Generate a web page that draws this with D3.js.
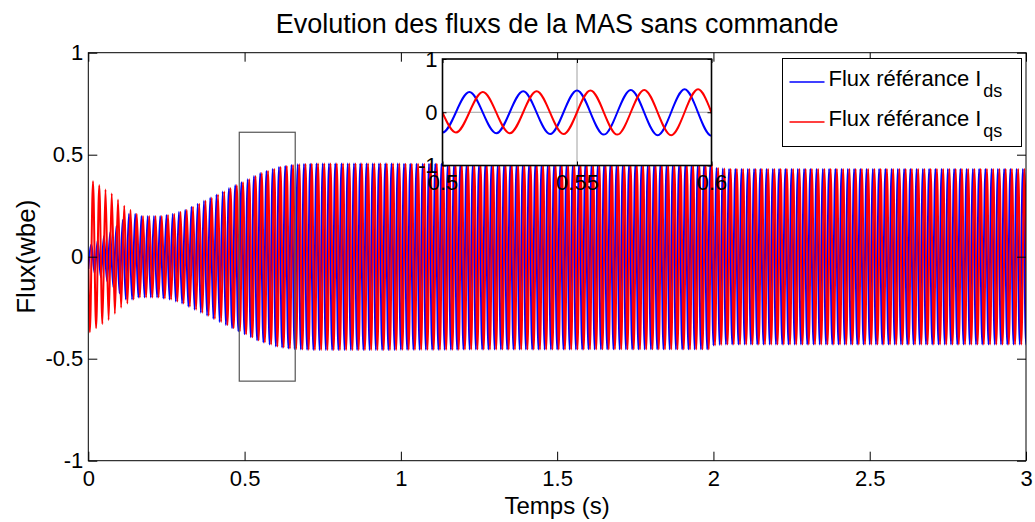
<!DOCTYPE html>
<html><head><meta charset="utf-8">
<script src="https://cdn.jsdelivr.net/npm/d3@7"></script>
<style>body{margin:0;background:#fff}svg{display:block}text{font-family:"Liberation Sans",Arial,sans-serif;fill:#000}</style>
</head><body><svg id="c" width="1035" height="522"></svg>
<script>
// ---------- data ----------
const titleText = "Evolution des fluxs de la MAS sans commande";
const xLabelText = "Temps (s)";
const yLabelText = "Flux(wbe)";
const xTicks = [0, 0.5, 1, 1.5, 2, 2.5, 3];
const xTickLabels = ["0", "0.5", "1", "1.5", "2", "2.5", "3"];
const yTicks = [-1, -0.5, 0, 0.5, 1];
const yTickLabels = ["-1", "-0.5", "0", "0.5", "1"];
const insetXTicks = [0.5, 0.55, 0.6];
const insetXTickLabels = ["0.5", "0.55", "0.6"];
const insetYTicks = [-1, 0, 1];
const insetYTickLabels = ["-1", "0", "1"];
const seriesNames = ["Flux référance I", "Flux référance I"];
const seriesSubs = ["ds", "qs"];
const period = 0.02;            // 50 Hz (5 cycles in 0.1 s)
// peak amplitude of each cycle (cycle k starts at k*period), read from the envelope
const ampDs = [0.06,0.08,0.10,0.12,0.15,0.18,0.21,0.21,0.20,0.20,
  0.20,0.20,0.205,0.21,0.22,0.23,0.245,0.26,0.275,0.29,
  0.305,0.32,0.335,0.35,0.365,0.38,0.395,0.41,0.42,0.43,
  0.44,0.445,0.45,0.453,0.455,0.456,0.457,0.457,0.457,0.457,
  0.457,0.457,0.457,0.457,0.457,0.457,0.457,0.457,0.457,0.457,
  0.456,0.456,0.456,0.456,0.456,0.456,0.456,0.456,0.456,0.456,
  0.455,0.455,0.455,0.455,0.455,0.455,0.455,0.455,0.455,0.455,
  0.455,0.455,0.455,0.455,0.455,0.455,0.455,0.455,0.455,0.455,
  0.454,0.454,0.454,0.454,0.454,0.454,0.454,0.454,0.454,0.454,
  0.454,0.454,0.454,0.454,0.454,0.454,0.454,0.454,0.454,0.454,
  0.435,0.432,0.43,0.43,0.43,0.43,0.43,0.43,0.43,0.43,
  0.43,0.43,0.43,0.43,0.43,0.43,0.43,0.43,0.43,0.43,
  0.43,0.43,0.43,0.43,0.43,0.43,0.43,0.43,0.43,0.43,
  0.43,0.43,0.43,0.43,0.43,0.43,0.43,0.43,0.43,0.43,
  0.43,0.43,0.43,0.43,0.43,0.43,0.43,0.43,0.43,0.43,0.43];
const ampQs = [0.37,0.35,0.33,0.31,0.28,0.25,0.23,0.21,0.20,0.20,
  0.20,0.20,0.205,0.21,0.22,0.23,0.245,0.26,0.275,0.29,
  0.305,0.32,0.335,0.35,0.365,0.38,0.395,0.41,0.42,0.43,
  0.44,0.445,0.45,0.453,0.455,0.456,0.457,0.457,0.457,0.457,
  0.457,0.457,0.457,0.457,0.457,0.457,0.457,0.457,0.457,0.457,
  0.456,0.456,0.456,0.456,0.456,0.456,0.456,0.456,0.456,0.456,
  0.455,0.455,0.455,0.455,0.455,0.455,0.455,0.455,0.455,0.455,
  0.455,0.455,0.455,0.455,0.455,0.455,0.455,0.455,0.455,0.455,
  0.454,0.454,0.454,0.454,0.454,0.454,0.454,0.454,0.454,0.454,
  0.454,0.454,0.454,0.454,0.454,0.454,0.454,0.454,0.454,0.454,
  0.435,0.432,0.43,0.43,0.43,0.43,0.43,0.43,0.43,0.43,
  0.43,0.43,0.43,0.43,0.43,0.43,0.43,0.43,0.43,0.43,
  0.43,0.43,0.43,0.43,0.43,0.43,0.43,0.43,0.43,0.43,
  0.43,0.43,0.43,0.43,0.43,0.43,0.43,0.43,0.43,0.43,
  0.43,0.43,0.43,0.43,0.43,0.43,0.43,0.43,0.43,0.43,0.43];
const zoomBoxT = [0.483, 0.662];
const zoomBoxF = [-0.61, 0.61];

// ---------- build extrema points (d-axis leads q-axis by a quarter period) ----------
const ptsDs = [], ptsQs = [{t: 0, v: 0}];
ampDs.forEach((a, k) => { ptsDs.push({t: k*period, v: -a}); ptsDs.push({t: k*period + period/2, v: a}); });
ampQs.forEach((a, k) => { ptsQs.push({t: k*period + period/4, v: -a}); ptsQs.push({t: k*period + 3*period/4, v: a}); });

// ---------- layout ----------
const svg = d3.select("#c");
const M = {l: 88.3, r: 1026, t: 52.7, b: 460.7};
const x = d3.scaleLinear().domain([0, 3]).range([M.l, M.r]);
const y = d3.scaleLinear().domain([-1, 1]).range([M.b, M.t]);
const FS = 22;
const colors = ["#0000ff", "#ff0000"];

svg.append("rect").attr("width", 1035).attr("height", 522).attr("fill", "#fff");
const defs = svg.append("defs");
defs.append("clipPath").attr("id", "clipMain").append("rect")
  .attr("x", M.l).attr("y", M.t).attr("width", M.r - M.l).attr("height", M.b - M.t);

// lines
const line = d3.line().x(d => x(d.t)).y(d => y(d.v)).curve(d3.curveMonotoneX);
const gl = svg.append("g").attr("clip-path", "url(#clipMain)");
[ptsDs, ptsQs].forEach((p, i) => gl.append("path").attr("d", line(p))
  .attr("fill", "none").attr("stroke", colors[i]).attr("stroke-width", 2));

// axes
function styleAxis(g) { g.attr("font-size", FS).attr("font-family", '"Liberation Sans",Arial,sans-serif');
  g.select(".domain").remove(); g.selectAll(".tick line").attr("stroke", "#000"); }
svg.append("g").attr("transform", `translate(0,${M.b})`)
  .call(d3.axisBottom(x).tickValues(xTicks).tickFormat((d, i) => xTickLabels[i]).tickSizeInner(-9).tickSizeOuter(0).tickPadding(10))
  .call(styleAxis);
svg.append("g").attr("transform", `translate(0,${M.t})`)
  .call(d3.axisTop(x).tickValues(xTicks).tickFormat("").tickSizeInner(-9).tickSizeOuter(0)).call(styleAxis);
svg.append("g").attr("transform", `translate(${M.l},0)`)
  .call(d3.axisLeft(y).tickValues(yTicks).tickFormat((d, i) => yTickLabels[i]).tickSizeInner(-9).tickSizeOuter(0).tickPadding(5))
  .call(styleAxis);
svg.append("g").attr("transform", `translate(${M.r},0)`)
  .call(d3.axisRight(y).tickValues(yTicks).tickFormat("").tickSizeInner(-9).tickSizeOuter(0)).call(styleAxis);
svg.append("rect").attr("x", M.l).attr("y", M.t).attr("width", M.r - M.l).attr("height", M.b - M.t)
  .attr("fill", "none").attr("stroke", "#000").attr("stroke-width", 1);

// titles
svg.append("text").attr("x", (M.l + M.r) / 2).attr("y", 33).attr("text-anchor", "middle")
  .attr("font-size", 27).text(titleText);
svg.append("text").attr("x", (M.l + M.r) / 2).attr("y", 514).attr("text-anchor", "middle")
  .attr("font-size", FS + 2).text(xLabelText);
svg.append("text").attr("transform", `translate(35,${(M.t + M.b) / 2}) rotate(-90)`).attr("text-anchor", "middle")
  .attr("font-size", 26).text(yLabelText);

// zoom rectangle
svg.append("rect").attr("x", x(zoomBoxT[0])).attr("y", y(zoomBoxF[1]))
  .attr("width", x(zoomBoxT[1]) - x(zoomBoxT[0])).attr("height", y(zoomBoxF[0]) - y(zoomBoxF[1]))
  .attr("fill", "none").attr("stroke", "#555").attr("stroke-width", 1.2);

// ---------- inset ----------
const I = {l: 442.5, r: 711.5, t: 59, b: 165.5};
const xi = d3.scaleLinear().domain([insetXTicks[0], insetXTicks[2]]).range([I.l, I.r]);
const yi = d3.scaleLinear().domain([-1, 1]).range([I.b, I.t]);
defs.append("clipPath").attr("id", "clipInset").append("rect")
  .attr("x", I.l).attr("y", I.t).attr("width", I.r - I.l).attr("height", I.b - I.t);
svg.append("rect").attr("x", I.l).attr("y", I.t).attr("width", I.r - I.l).attr("height", I.b - I.t).attr("fill", "#fff");
// grid
svg.append("g").selectAll("line").data(insetXTicks.slice(1, -1)).join("line")
  .attr("x1", d => xi(d)).attr("x2", d => xi(d)).attr("y1", I.t).attr("y2", I.b).attr("stroke", "#a0a0a0").attr("stroke-width", 1);
svg.append("g").selectAll("line").data(insetYTicks.slice(1, -1)).join("line")
  .attr("y1", d => yi(d)).attr("y2", d => yi(d)).attr("x1", I.l).attr("x2", I.r).attr("stroke", "#a0a0a0").attr("stroke-width", 1);
const linei = d3.line().x(d => xi(d.t)).y(d => yi(d.v)).curve(d3.curveMonotoneX);
const gi = svg.append("g").attr("clip-path", "url(#clipInset)");
[ptsDs, ptsQs].forEach((p, i) => gi.append("path")
  .attr("d", linei(p.filter(d => d.t >= 0.47 && d.t <= 0.63)))
  .attr("fill", "none").attr("stroke", colors[i]).attr("stroke-width", 2));
svg.append("g").attr("transform", `translate(0,${I.b})`)
  .call(d3.axisBottom(xi).tickValues(insetXTicks).tickFormat((d, i) => insetXTickLabels[i]).tickSizeInner(-4).tickSizeOuter(0).tickPadding(9))
  .call(styleAxis);
svg.append("g").attr("transform", `translate(0,${I.t})`)
  .call(d3.axisTop(xi).tickValues(insetXTicks).tickFormat("").tickSizeInner(-4).tickSizeOuter(0)).call(styleAxis);
svg.append("g").attr("transform", `translate(${I.l},0)`)
  .call(d3.axisLeft(yi).tickValues(insetYTicks).tickFormat((d, i) => insetYTickLabels[i]).tickSizeInner(-4).tickSizeOuter(0).tickPadding(5))
  .call(styleAxis);
svg.append("g").attr("transform", `translate(${I.r},0)`)
  .call(d3.axisRight(yi).tickValues(insetYTicks).tickFormat("").tickSizeInner(-4).tickSizeOuter(0)).call(styleAxis);
svg.append("rect").attr("x", I.l).attr("y", I.t).attr("width", I.r - I.l).attr("height", I.b - I.t)
  .attr("fill", "none").attr("stroke", "#000").attr("stroke-width", 1.6);

// ---------- legend ----------
const L = {x: 782.5, y: 58.5, w: 239, h: 88};
const lg = svg.append("g");
lg.append("rect").attr("x", L.x).attr("y", L.y).attr("width", L.w).attr("height", L.h)
  .attr("fill", "#fff").attr("stroke", "#000").attr("stroke-width", 1);
seriesNames.forEach((name, i) => {
  const ly = L.y + 23.5 + i * 40;
  lg.append("line").attr("x1", L.x + 7).attr("x2", L.x + 42).attr("y1", ly).attr("y2", ly)
    .attr("stroke", colors[i]).attr("stroke-width", 1.5);
  const t = lg.append("text").attr("x", L.x + 46).attr("y", ly + 4).attr("font-size", FS);
  t.append("tspan").text(name);
  t.append("tspan").attr("font-size", 18).attr("dx", 2).attr("dy", 11).text(seriesSubs[i]);
});
</script></body></html>
